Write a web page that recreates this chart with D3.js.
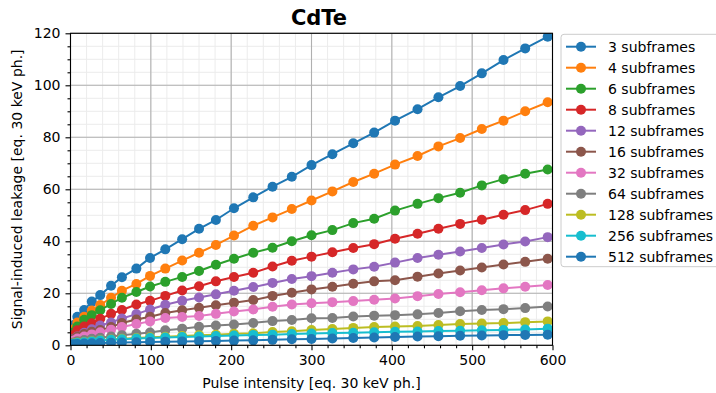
<!DOCTYPE html>
<html>
<head>
<meta charset="utf-8">
<script src="https://cdn.jsdelivr.net/npm/d3@7"></script>
<style>
  html, body { margin: 0; padding: 0; background: #fff; }
  svg { display: block; font-family: "DejaVu Sans", sans-serif; }
</style>
</head>
<body>
<svg id="chart" width="716" height="393"></svg>
<script>
// Pulse intensity of each measurement point [eq. 30 keV ph.]
const intensity = [1, 4, 8.5, 17, 26.5, 37, 50.5, 64, 82, 99, 118, 139, 160, 181, 203.5,
  227.5, 251.5, 275.5, 300, 326, 352, 378, 404, 432, 458, 485, 512, 539, 566, 594];

// Signal-induced leakage per subframe count [eq. 30 keV ph.]
const leak3 = [4.5, 7.8, 11.0, 13.6, 16.8, 19.3, 22.9, 26.2, 29.5, 33.6, 36.9, 40.8, 44.8, 48.2, 52.7,
  56.9, 61.0, 64.8, 69.3, 73.5, 77.7, 81.8, 86.4, 90.8, 95.4, 99.7, 104.6, 109.7, 114.2, 118.7];
const leak4 = [3.6, 6.2, 8.8, 11.0, 13.4, 15.5, 18.3, 21.0, 23.6, 26.7, 29.5, 32.6, 35.6, 38.6, 42.2,
  46.0, 49.2, 52.4, 55.7, 59.2, 62.8, 66.0, 69.5, 72.8, 76.5, 79.7, 83.2, 86.4, 90.0, 93.5];
const leak6 = [2.8, 5.0, 7.2, 9.8, 11.6, 13.5, 15.9, 18.3, 20.5, 22.6, 24.4, 26.3, 28.6, 31.0, 33.3,
  35.6, 37.5, 40.0, 42.3, 44.3, 47.0, 48.7, 51.8, 54.4, 56.6, 58.7, 61.5, 63.9, 66.0, 67.6];
const leak8 = [2.2, 4.0, 5.8, 7.2, 8.5, 10.2, 12.1, 13.6, 15.7, 17.1, 19.0, 21.1, 22.7, 24.6, 26.3,
  27.9, 30.3, 32.5, 34.1, 35.8, 37.4, 38.9, 41.0, 42.9, 44.8, 46.7, 48.3, 50.2, 52.0, 54.4];
const leak12 = [1.5, 2.4, 3.4, 4.8, 6.2, 7.6, 8.8, 10.3, 12.0, 13.8, 15.6, 17.1, 18.4, 19.6, 21.0,
  22.4, 24.0, 25.5, 26.6, 27.9, 29.2, 30.2, 31.8, 33.6, 34.8, 36.1, 37.4, 38.8, 39.9, 41.6];
const leak16 = [1.3, 2.3, 3.3, 4.3, 5.2, 5.9, 7.0, 8.6, 9.9, 11.0, 12.4, 13.5, 14.4, 15.4, 16.4,
  17.4, 19.0, 20.2, 21.5, 22.5, 23.7, 24.6, 25.0, 26.4, 27.6, 28.8, 29.9, 31.1, 32.1, 33.3];
const leak32 = [1.0, 1.8, 2.6, 3.4, 4.2, 5.0, 6.0, 7.0, 8.2, 9.2, 10.5, 10.9, 11.3, 12.1, 13.0,
  13.8, 14.8, 15.7, 16.2, 16.6, 17.0, 17.5, 18.0, 18.9, 19.7, 20.4, 21.2, 21.9, 22.5, 23.2];
const leak64 = [0.6, 1.1, 1.6, 2.0, 2.5, 2.9, 3.4, 3.9, 4.4, 4.9, 5.8, 6.4, 7.1, 7.6, 8.0,
  8.6, 9.3, 9.7, 10.4, 10.5, 11.1, 11.4, 11.6, 11.9, 12.4, 13.1, 13.6, 13.9, 14.3, 14.9];
const leak128 = [0.4, 0.7, 1.0, 1.3, 1.6, 1.9, 2.2, 2.5, 2.8, 3.1, 3.3, 3.6, 3.9, 4.1, 4.4,
  4.6, 5.1, 5.4, 5.9, 6.3, 6.7, 7.0, 7.2, 7.45, 7.8, 8.2, 8.4, 8.55, 8.9, 9.2];
const leak256 = [0.3, 0.6, 0.9, 1.2, 1.5, 1.8, 2.1, 2.3, 2.6, 2.8, 3.0, 3.2, 3.4, 3.6, 3.8,
  4.0, 4.1, 4.3, 4.5, 4.7, 4.8, 5.0, 5.2, 5.3, 5.5, 5.6, 5.8, 5.9, 6.1, 6.4];
const leak512 = [0.2, 0.4, 0.5, 0.7, 0.8, 0.9, 1.0, 1.1, 1.2, 1.3, 1.4, 1.5, 1.6, 1.7, 1.8,
  1.9, 2.1, 2.3, 2.4, 2.6, 2.8, 3.0, 3.2, 3.4, 3.5, 3.7, 3.8, 3.9, 4.0, 4.1];

const seriesNames = ["3 subframes", "4 subframes", "6 subframes", "8 subframes", "12 subframes",
  "16 subframes", "32 subframes", "64 subframes", "128 subframes", "256 subframes", "512 subframes"];
const seriesValues = [leak3, leak4, leak6, leak8, leak12, leak16, leak32, leak64, leak128, leak256, leak512];
const colors = ["#1f77b4", "#ff7f0e", "#2ca02c", "#d62728", "#9467bd", "#8c564b",
  "#e377c2", "#7f7f7f", "#bcbd22", "#17becf", "#1f77b4"];

const xTicks = [0, 100, 200, 300, 400, 500, 600];
const yTicks = [0, 20, 40, 60, 80, 100, 120];

const chartTitle = "CdTe";
const xLabel = "Pulse intensity [eq. 30 keV ph.]";
const yLabel = "Signal-induced leakage [eq. 30 keV ph.]";

// ---- layout ----
const plot = { left: 70.5, right: 552.5, top: 33.3, bottom: 345.3 };

const svg = d3.select("#chart");
const x = d3.scaleLinear().domain([0, 600]).range([plot.left, plot.right]);
const y = d3.scaleLinear().domain([0, 120]).range([plot.bottom, plot.top]);

// minor grid
const xMinor = d3.range(0, 601, 20);
const yMinor = d3.range(0, 121, 5);
const grid = svg.append("g");
grid.selectAll(".xm").data(xMinor).enter().append("line")
  .attr("x1", d => x(d)).attr("x2", d => x(d))
  .attr("y1", plot.top).attr("y2", plot.bottom)
  .attr("stroke", "#ececec").attr("stroke-width", 1);
grid.selectAll(".ym").data(yMinor).enter().append("line")
  .attr("y1", d => y(d)).attr("y2", d => y(d))
  .attr("x1", plot.left).attr("x2", plot.right)
  .attr("stroke", "#ececec").attr("stroke-width", 1);
// major grid
grid.selectAll(".xM").data(xTicks).enter().append("line")
  .attr("x1", d => x(d)).attr("x2", d => x(d))
  .attr("y1", plot.top).attr("y2", plot.bottom)
  .attr("stroke", "#b0b0b0").attr("stroke-width", 1.1);
grid.selectAll(".yM").data(yTicks).enter().append("line")
  .attr("y1", d => y(d)).attr("y2", d => y(d))
  .attr("x1", plot.left).attr("x2", plot.right)
  .attr("stroke", "#b0b0b0").attr("stroke-width", 1.1);

// clip region for the data
svg.append("clipPath").attr("id", "plotClip").append("rect")
  .attr("x", plot.left).attr("y", plot.top)
  .attr("width", plot.right - plot.left).attr("height", plot.bottom - plot.top);

const dataG = svg.append("g").attr("clip-path", "url(#plotClip)");
const line = d3.line().x(d => x(d[0])).y(d => y(d[1]));

seriesValues.forEach((vals, i) => {
  const pts = intensity.map((xi, j) => [xi, vals[j]]);
  const g = dataG.append("g");
  g.append("path").datum(pts).attr("d", line)
    .attr("fill", "none").attr("stroke", colors[i]).attr("stroke-width", 2);
  g.selectAll("circle").data(pts).enter().append("circle")
    .attr("cx", d => x(d[0])).attr("cy", d => y(d[1]))
    .attr("r", 5).attr("fill", colors[i]);
});

// axes
const xAxis = d3.axisBottom(x).tickValues(xTicks).tickSize(5).tickPadding(5).tickFormat(d3.format("d"));
const yAxis = d3.axisLeft(y).tickValues(yTicks).tickSize(5).tickPadding(5).tickFormat(d3.format("d"));
const xAxisMinor = d3.axisBottom(x).tickValues(xMinor.filter(v => v % 100 !== 0)).tickSize(3).tickFormat("");
const yAxisMinor = d3.axisLeft(y).tickValues(yMinor.filter(v => v % 20 !== 0)).tickSize(3).tickFormat("");

function styleAxis(g) {
  g.select(".domain").remove();
  g.selectAll("line").attr("stroke", "#000").attr("stroke-width", 1.1);
  g.selectAll("text").attr("font-family", "DejaVu Sans").attr("font-size", 14).attr("fill", "#000");
}
svg.append("g").attr("transform", `translate(0,${plot.bottom})`).call(xAxisMinor).call(styleAxis);
svg.append("g").attr("transform", `translate(${plot.left},0)`).call(yAxisMinor).call(styleAxis);
svg.append("g").attr("transform", `translate(0,${plot.bottom})`).call(xAxis).call(styleAxis);
svg.append("g").attr("transform", `translate(${plot.left},0)`).call(yAxis).call(styleAxis);

// frame
svg.append("rect")
  .attr("x", plot.left).attr("y", plot.top)
  .attr("width", plot.right - plot.left).attr("height", plot.bottom - plot.top)
  .attr("fill", "none").attr("stroke", "#000").attr("stroke-width", 1.1);

// title and axis labels
svg.append("text").attr("x", 319).attr("y", 25).attr("text-anchor", "middle")
  .attr("font-family", "DejaVu Sans").attr("font-weight", "bold").attr("font-size", 21)
  .text(chartTitle);
svg.append("text").attr("x", (plot.left + plot.right) / 2).attr("y", 388).attr("text-anchor", "middle")
  .attr("font-family", "DejaVu Sans").attr("font-size", 14).text(xLabel);
svg.append("text").attr("transform", `translate(22,${(plot.top + plot.bottom) / 2}) rotate(-90)`)
  .attr("text-anchor", "middle")
  .attr("font-family", "DejaVu Sans").attr("font-size", 14).text(yLabel);

// legend
const legend = svg.append("g");
legend.append("rect").attr("x", 561).attr("y", 34.3).attr("width", 170).attr("height", 232.4)
  .attr("rx", 3).attr("fill", "#fff").attr("fill-opacity", 0.8)
  .attr("stroke", "#cccccc").attr("stroke-width", 1);
seriesNames.forEach((name, i) => {
  const cy = 46.7 + i * 21;
  const row = legend.append("g");
  row.append("line").attr("x1", 566).attr("x2", 596).attr("y1", cy).attr("y2", cy)
    .attr("stroke", colors[i]).attr("stroke-width", 2);
  row.append("circle").attr("cx", 581).attr("cy", cy).attr("r", 5).attr("fill", colors[i]);
  row.append("text").attr("x", 608).attr("y", cy + 5)
    .attr("font-family", "DejaVu Sans").attr("font-size", 14).text(name);
});
</script>
</body>
</html>
